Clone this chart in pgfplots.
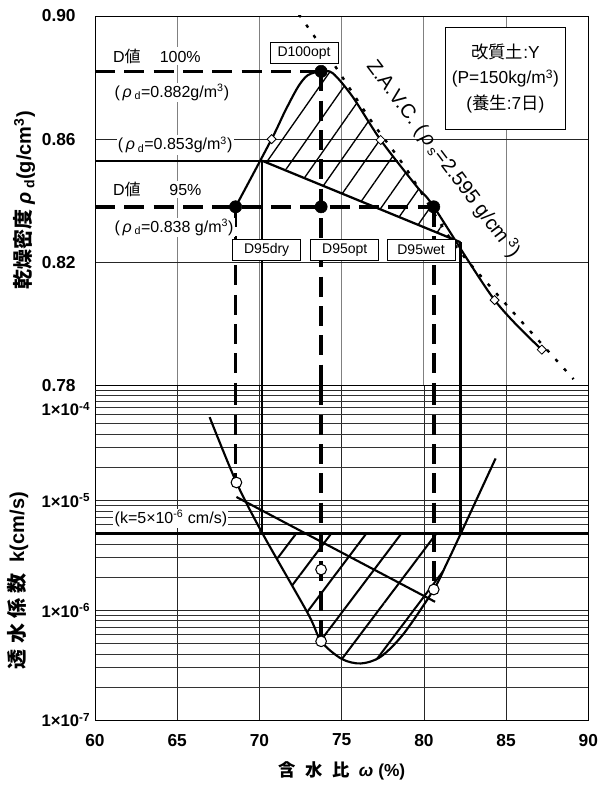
\documentclass[border=0pt]{standalone}
\usepackage{fontspec}
\setmainfont{Liberation Sans}
\newfontfamily\cjk{Noto Sans CJK JP}
\usepackage{pgfplots}
\pgfplotsset{compat=1.18}
\usepgfplotslibrary{fillbetween}
\usetikzlibrary{patterns.meta}

\begin{document}
\begin{tikzpicture}[
  tag/.style={draw=black, fill=white, line width=0.5pt, inner sep=1pt,
    minimum width=51pt, minimum height=16pt, font=\fontsize{10.5}{12}\selectfont},
  note/.style={fill=white, inner sep=1pt, anchor=west, font=\fontsize{12}{14}\selectfont},
  thickdash/.style={line width=2.8pt, dash pattern=on 15pt off 7pt},
  solidline/.style={line width=1.7pt},
]
% ---------- dry density ----------
\begin{axis}[
  name=top, scale only axis, width=370pt, height=277pt,
  xmin=60, xmax=90, ymin=0.78, ymax=0.90,
  xtick={60,65,...,90}, xticklabels={,,,,,,},
  ytick={0.78,0.82,0.86,0.90}, yticklabels={0.78,0.82,0.86,0.90},
  yticklabel style={font=\bfseries\fontsize{13}{15}\selectfont, xshift=-11pt},
  major tick length=0pt,
  xmajorgrids, ymajorgrids,
  x grid style={black!50, line width=0.6pt},
  y grid style={black!85, line width=0.6pt},
  axis line style={line width=0.7pt},
]
% Z.A.V.C.
\addplot[line width=1.8pt, dash pattern=on 2.5pt off 7pt, smooth]
  coordinates {(72.4,0.9005)(74.55,0.8841)(76.76,0.8662)(78.97,0.850)(81.76,0.8265)(84.3,0.8105)(89.1,0.782)};
% compaction curve
\addplot[name path=comp, smooth, line width=1.6pt]
  coordinates {(68.55,0.838)(70.74,0.860)(71.55,0.869)(72.35,0.877)(72.95,0.8808)(73.75,0.882)
               (74.46,0.8814)(75.66,0.8738)(77.37,0.8597)(79.58,0.8445)(80.6,0.838)(84.3,0.8077)(87.17,0.7916)};
% limit line
\addplot[name path=sat, solidline] coordinates {(70.15,0.853)(82.22,0.8265)};
\addplot[pattern={Lines[angle=55,distance=15pt,line width=1pt]}, draw=none]
  fill between[of=comp and sat, soft clip={domain=70.15:82.22}];
\addplot[solidline] coordinates {(60,0.853)(78.45,0.853)};
\addplot[solidline] coordinates {(70.15,0.853)(70.15,0.78)};
\addplot[solidline] coordinates {(82.22,0.8265)(82.22,0.78)};
% D value lines
\addplot[thickdash] coordinates {(60,0.882)(73.75,0.882)};
\addplot[thickdash] coordinates {(60,0.838)(80.6,0.838)};
\addplot[thickdash] coordinates {(73.75,0.882)(73.75,0.78)};
\addplot[thickdash] coordinates {(68.55,0.838)(68.55,0.78)};
\addplot[thickdash] coordinates {(80.6,0.838)(80.6,0.78)};
% measured points
\addplot[only marks, mark=square*, mark size=2.4pt,
  mark options={rotate=45, fill=white, draw=black, line width=0.6pt}]
  coordinates {(70.74,0.860)(77.37,0.8597)(84.3,0.8077)(87.17,0.7916)};
\addplot[only marks, mark=*, mark size=4.6pt, fill=black]
  coordinates {(73.75,0.882)(68.55,0.838)(73.75,0.838)(80.6,0.838)};
% annotations
\node[note] at (axis cs:61.0,0.887) {D{\cjk 値}\hspace{1.2em}100\%};
\node[note] at (axis cs:61.1,0.8752) {(\,\textit{ρ}\,\textsubscript{d}=0.882g/m\textsuperscript{3})};
\node[note] at (axis cs:61.3,0.8581) {(\,\textit{ρ}\,\textsubscript{d}=0.853g/m\textsuperscript{3})};
\node[note] at (axis cs:61.0,0.8437) {D{\cjk 値}\hspace{1.8em}95\%};
\node[note] at (axis cs:61.1,0.8314) {(\,\textit{ρ}\,\textsubscript{d}=0.838 g/m\textsuperscript{3})};
\node[tag] at (axis cs:72.71,0.8881) {D100opt};
\node[tag] at (axis cs:70.44,0.8241) {D95dry};
\node[tag] at (axis cs:75.19,0.8241) {D95opt};
\node[tag] at (axis cs:79.83,0.8241) {D95wet};
\node[rotate=-53, font=\fontsize{15}{17}\selectfont] at (axis cs:81.2,0.8535)
  {Z.A.V.C.\ (\,\textit{ρ}\,\textsubscript{s}=2.595 g/cm\,\textsuperscript{3})};
\node[draw=black, fill=white, line width=0.7pt, align=center, minimum width=90pt,
  minimum height=76pt, font=\fontsize{13}{19}\selectfont] at (axis cs:84.96,0.8797)
  {{\cjk 改質土}:Y\\(P=150kg/m\textsuperscript{3})\\({\cjk 養生}:7{\cjk 日})};
\end{axis}

% ---------- permeability ----------
\begin{axis}[
  name=bot, at={(top.south west)}, anchor=north west,
  scale only axis, width=370pt, height=251pt,
  xmin=60, xmax=90, ymode=log, log basis y=10, ymin=1e-7, ymax=1.11e-4,
  xtick={60,65,...,90}, xticklabels={60,65,70,75,80,85,90},
  xticklabel style={font=\bfseries\fontsize{13}{15}\selectfont, yshift=-7pt},
  ytick={1e-7,1e-6,1e-5},
  yticklabels={1×10\textsuperscript{-7},1×10\textsuperscript{-6},1×10\textsuperscript{-5}},
  extra y ticks={1e-4},
  extra y tick labels={1×10\textsuperscript{-4}},
  extra y tick style={grid=major, yticklabel style={yshift=-14pt}},
  yticklabel style={font=\bfseries\fontsize{12.5}{14}\selectfont},
  minor ytick={2e-7,3e-7,4e-7,5e-7,6e-7,7e-7,8e-7,9e-7,
               2e-6,3e-6,4e-6,5e-6,6e-6,7e-6,8e-6,9e-6,
               2e-5,3e-5,4e-5,5e-5,6e-5,7e-5,8e-5,9e-5},
  major tick length=0pt, minor tick length=0pt,
  xmajorgrids, ymajorgrids, yminorgrids,
  major grid style={black!85, line width=0.5pt},
  minor grid style={black!80, line width=0.5pt},
  axis line style={line width=0.7pt},
]
% hatched zone: below k = 5e-6 and above the permeability curve
\addplot[pattern={Lines[angle=53,distance=21pt,line width=1.5pt]}, draw=none, smooth]
  coordinates {(70.18,5e-6)(72.95,9.3e-7)(73.75,5.2e-7)(75.0,3.6e-7)(76.16,3.27e-7)
               (77.37,3.76e-7)(78.77,6.1e-7)(80.6,1.54e-6)(81.39,2.66e-6)(82.25,5e-6)} -- cycle;
\addplot[line width=2pt] coordinates {(60,5e-6)(90,5e-6)};
\addplot[smooth, line width=1.6pt]
  coordinates {(66.97,5.7e-5)(68.6,1.45e-5)(70.18,5e-6)(72.95,9.3e-7)(73.75,5.2e-7)
               (75.0,3.6e-7)(76.16,3.27e-7)(77.37,3.76e-7)(78.77,6.1e-7)(80.6,1.54e-6)
               (81.39,2.66e-6)(82.25,5e-6)(84.36,2.4e-5)};
\addplot[line width=1.6pt] coordinates {(68.6,1.07e-5)(80.68,1.19e-6)};
\addplot[solidline] coordinates {(70.15,1.11e-4)(70.15,5e-6)};
\addplot[solidline] coordinates {(82.22,1.11e-4)(82.22,5e-6)};
\addplot[thickdash] coordinates {(68.55,1.11e-4)(68.55,1.45e-5)};
\addplot[thickdash] coordinates {(73.75,1.11e-4)(73.75,5.2e-7)};
\addplot[thickdash] coordinates {(80.6,1.11e-4)(80.6,1.54e-6)};
\addplot[only marks, mark=*, mark size=4pt,
  mark options={fill=white, draw=black, line width=0.8pt}]
  coordinates {(68.6,1.45e-5)(73.75,2.34e-6)(73.75,5.2e-7)(80.6,1.54e-6)};
\node[note] at (axis cs:61.1,6.8e-6) {(k=5×10\textsuperscript{-6} cm/s)};
\end{axis}

% axis titles
\node[rotate=90, font=\bfseries\fontsize{15}{17}\selectfont] at ([xshift=-53pt]top.west)
  {{\cjk 乾燥密度}\ \textit{ρ}\,\textsubscript{d}(g/cm\textsuperscript{3})};
\node[rotate=90, font=\bfseries\fontsize{15}{17}\selectfont] at ([xshift=-58pt,yshift=-21pt]bot.west)
  {{\cjk 透\hspace{4pt}水\hspace{4pt}係\hspace{4pt}数}\ \ k(cm/s)};
\node[font=\bfseries\fontsize{13}{15}\selectfont] at ([yshift=-38pt]bot.south)
  {{\cjk 含}\ \ {\cjk 水}\ \ {\cjk 比}\ \ \textit{ω}\ (\%)};

\pgfresetboundingbox
\path ([shift={(-71.25pt,12pt)}]top.north west) rectangle ([shift={(378.75pt,-578.25pt)}]top.north west);
\end{tikzpicture}
\end{document}
